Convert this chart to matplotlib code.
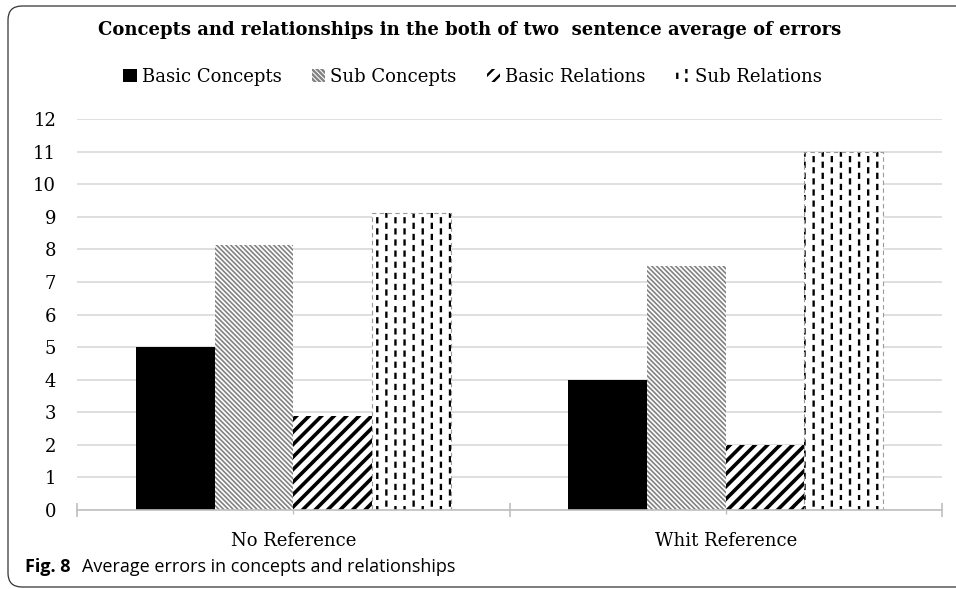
import numpy as np
import matplotlib
matplotlib.use('Agg')
import matplotlib.pyplot as plt
import matplotlib.hatch as mhatch
from matplotlib.path import Path
from matplotlib.patches import FancyBboxPatch
from matplotlib.transforms import IdentityTransform

categories = ['No Reference', 'Whit Reference']
series_names = ['Basic Concepts', 'Sub Concepts', 'Basic Relations', 'Sub Relations']
basic_concepts = [5.0, 4.0]
sub_concepts = [8.13, 7.5]
basic_relations = [2.87, 2.0]
sub_relations = [9.12, 11.0]
y_ticks = list(range(13))


# hatch patterns closer to the Excel fills than the built-in ones
class FineBackslash(mhatch.HatchPatternBase):
    def __init__(self, hatch, density):
        self.n = 21 if '\\' in hatch else 0
        self.num_vertices = (2 * self.n + 1) * 2 if self.n else 0

    def set_vertices_and_codes(self, vertices, codes):
        c = np.arange(2 * self.n + 1) / self.n
        vertices[0::2, 0] = 0.0
        vertices[0::2, 1] = c
        vertices[1::2, 0] = 1.0
        vertices[1::2, 1] = c - 1.0
        codes[0::2] = Path.MOVETO
        codes[1::2] = Path.LINETO


class WideSlash(mhatch.HatchPatternBase):
    def __init__(self, hatch, density):
        self.n = 8 if '/' in hatch else 0
        self.num_vertices = (2 * self.n + 1) * 2 if self.n else 0

    def set_vertices_and_codes(self, vertices, codes):
        c = np.arange(-self.n, self.n + 1) / self.n
        vertices[0::2, 0] = 0.0
        vertices[0::2, 1] = c
        vertices[1::2, 0] = 1.0
        vertices[1::2, 1] = c + 1.0
        codes[0::2] = Path.MOVETO
        codes[1::2] = Path.LINETO


class DashColumns(mhatch.HatchPatternBase):
    cols = 11
    rows = 9

    def __init__(self, hatch, density):
        self.on = '|' in hatch
        self.num_vertices = self.cols * (self.rows + 1) * 2 if self.on else 0

    def set_vertices_and_codes(self, vertices, codes):
        k = 0
        for i in range(self.cols):
            off = 0.5 * (i % 2)
            xx = (i + 0.5) / self.cols
            for j in range(-1, self.rows):
                y0 = (j + off) / self.rows
                vertices[k] = (xx, y0)
                vertices[k + 1] = (xx, y0 + 0.35 / self.rows)
                codes[k] = Path.MOVETO
                codes[k + 1] = Path.LINETO
                k += 2


mhatch._hatch_types = [FineBackslash, WideSlash, DashColumns]

serif = 'DejaVu Serif'
plt.rcParams['font.family'] = serif

fig = plt.figure(figsize=(9.56, 5.89), dpi=100)
ax = fig.add_axes([77 / 956, 1 - 510 / 589, (942 - 77) / 956, (510 - 119) / 589])

x = np.arange(len(categories))
w = 0.182


def set_hatch_lw(bars, lw):
    for b in bars:
        if hasattr(b, 'set_hatch_linewidth'):
            b.set_hatch_linewidth(lw)


b1 = ax.bar(x - 1.5 * w, basic_concepts, w, color='black', linewidth=0,
            label=series_names[0])
plt.rcParams['hatch.linewidth'] = 1.2
b2 = ax.bar(x - 0.5 * w, sub_concepts, w, color='white', edgecolor='#828282',
            linewidth=0, hatch='\\', label=series_names[1])
set_hatch_lw(b2, 1.2)
plt.rcParams['hatch.linewidth'] = 2.6
b3 = ax.bar(x + 0.5 * w, basic_relations, w, color='white', edgecolor='black',
            linewidth=0, hatch='/', label=series_names[2])
set_hatch_lw(b3, 2.6)
plt.rcParams['hatch.linewidth'] = 1.7
b4 = ax.bar(x + 1.5 * w, sub_relations, w, color='white', edgecolor='black',
            linewidth=0, hatch='|', label=series_names[3])
set_hatch_lw(b4, 1.7)
# dashed grey outline on the last series
ax.bar(x + 1.5 * w, sub_relations, w, fill=False, edgecolor='#9a9a9a',
       linewidth=0.8, linestyle=(0, (4, 3)))

ax.set_xlim(-0.5, 1.5)
ax.set_ylim(0, 12)
ax.set_yticks(y_ticks)
ax.tick_params(axis='y', length=0, pad=15, labelsize=13)
ax.yaxis.grid(True, color='#d9d9d9', linewidth=1.2)
ax.set_axisbelow(True)
for s in ['top', 'right', 'left']:
    ax.spines[s].set_visible(False)
ax.spines['bottom'].set_color('#bfbfbf')
ax.spines['bottom'].set_linewidth(1.2)

ax.set_xticks(x, categories)
ax.set_xticks([-0.5, 0.5, 1.5], minor=True)
ax.tick_params(axis='x', which='major', length=3, width=1, color='#bfbfbf',
               pad=12.5, labelsize=13)
ax.tick_params(axis='x', which='minor', length=10, width=1.2, direction='inout',
               color='#bfbfbf')

fig.text(0.491, 1 - 30 / 589, 'Concepts and relationships in the both of two  sentence average of errors',
         ha='center', va='center', fontsize=13, fontweight='bold', family=serif)

fig.legend(handles=[b1, b2, b3, b4], loc='center', bbox_to_anchor=(0.494, 1 - 77 / 589),
           ncol=4, frameon=False, handlelength=0.75, handleheight=0.75,
           handletextpad=0.3, columnspacing=1.65, fontsize=13)

fig.text(25 / 956, 1 - 567 / 589, 'Fig. 8', ha='left', va='center', fontsize=13,
         fontweight='bold', family='Open Sans')
fig.text(82 / 956, 1 - 567 / 589, 'Average errors in concepts and relationships',
         ha='left', va='center', fontsize=13, family='Open Sans')

frame = FancyBboxPatch((8, 2), 980, 581, boxstyle='round,pad=0,rounding_size=14',
                       transform=IdentityTransform(), fill=False,
                       edgecolor='#333333', linewidth=0.9)
fig.add_artist(frame)

fig.savefig('out.png', dpi=100)
